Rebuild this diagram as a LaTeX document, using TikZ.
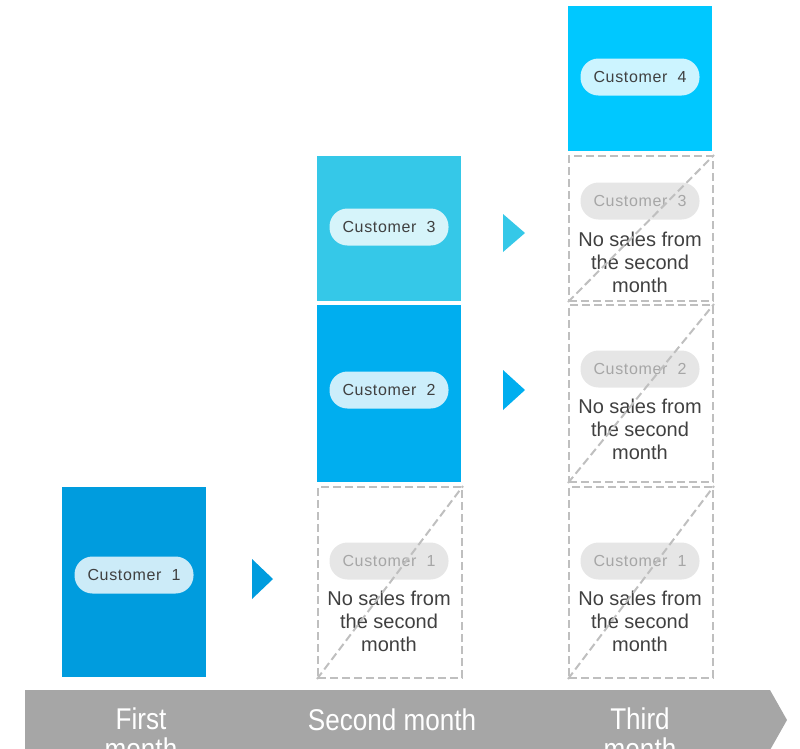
\documentclass[tikz,border=0pt]{standalone}
\usepackage{fontspec}
\setmainfont{Liberation Sans}
\definecolor{blueA}{HTML}{009CDE}
\definecolor{blueB}{HTML}{00AEEF}
\definecolor{blueC}{HTML}{35C8E8}
\definecolor{blueD}{HTML}{00C8FF}
\definecolor{dashgray}{HTML}{BFBFBF}
\definecolor{pillgray}{HTML}{E6E6E6}
\definecolor{fadetext}{HTML}{A6A6A6}
\definecolor{darktext}{HTML}{404040}
\definecolor{bargray}{HTML}{A6A6A6}
\newcommand{\narrow}[1]{\scalebox{0.87}[1]{#1}}
\tikzset{
  salebox/.style={anchor=north west, inner sep=0pt, minimum width=144pt},
  missbox/.style={anchor=north west, inner sep=0pt, minimum width=144pt,
    draw=dashgray, line width=2pt, dash pattern=on 8pt off 4pt},
  missline/.style={draw=dashgray, line width=2pt, dash pattern=on 8pt off 4pt},
  pill/.style={rounded corners=18pt, minimum width=119pt, minimum height=37pt,
    inner sep=0pt, fill=white, fill opacity=0.8, text opacity=1, text=darktext,
    font=\fontsize{16}{18}\selectfont\addfontfeatures{LetterSpace=4}},
  greypill/.style={pill, fill=pillgray, fill opacity=1, text=fadetext},
  note/.style={align=center, text=darktext, inner sep=0pt,
    font=\fontsize{20}{23}\selectfont},
  monthlabel/.style={align=center, text=white, inner sep=0pt, anchor=north,
    font=\fontsize{30}{30}\selectfont}
}
\begin{document}
\begin{tikzpicture}[x=1pt,y=-1pt]
\useasboundingbox (0,0) rectangle (800,748);

% first month
\node[salebox, fill=blueA, minimum height=190pt] (c1) at (62,487) {};
\node[pill] (p1) at (134,575) {Customer~~1};
\fill[blueA] (252,559) -- (273,579) -- (252,599) -- cycle;

% second month
\node[salebox, fill=blueC, minimum height=145pt] (c3) at (317,156) {};
\node[pill] (p3) at (389,227) {Customer~~3};
\node[salebox, fill=blueB, minimum height=177pt] (c2) at (317,305) {};
\node[pill] (p2) at (389,390) {Customer~~2};
\node[missbox, minimum height=191pt] (m21) at (317,486) {};
\node[greypill] (g21) at (389,561) {Customer~~1};
\node[note] (n21) at (389,621) {No sales from\\the second\\month};
\draw[missline] (m21.south west) -- (m21.north east);
\fill[blueC] (503,214) -- (525,233) -- (503,252) -- cycle;
\fill[blueB] (503,370) -- (525,390) -- (503,410) -- cycle;

% third month
\node[salebox, fill=blueD, minimum height=145pt] (c4) at (568,6) {};
\node[pill] (p4) at (640,77) {Customer~~4};
\node[missbox, minimum height=145pt] (m33) at (568,155) {};
\node[greypill] (g33) at (640,201) {Customer~~3};
\node[note] (n33) at (640,262) {No sales from\\the second\\month};
\draw[missline] (m33.south west) -- (m33.north east);
\node[missbox, minimum height=177pt] (m32) at (568,304) {};
\node[greypill] (g32) at (640,369) {Customer~~2};
\node[note] (n32) at (640,429) {No sales from\\the second\\month};
\draw[missline] (m32.south west) -- (m32.north east);
\node[missbox, minimum height=191pt] (m31) at (568,486) {};
\node[greypill] (g31) at (640,561) {Customer~~1};
\node[note] (n31) at (640,621) {No sales from\\the second\\month};
\draw[missline] (m31.south west) -- (m31.north east);

% time line
\fill[bargray] (25,690) -- (770,690) -- (787,720) -- (770,750) -- (25,750) -- cycle;
\node[monthlabel] (t1) at (141,708) {\narrow{First}\\\narrow{month}};
\node[monthlabel, anchor=base] (t2) at (392,730) {\narrow{Second month}};
\node[monthlabel] (t3) at (640,708) {\narrow{Third}\\\narrow{month}};
\end{tikzpicture}
\end{document}
